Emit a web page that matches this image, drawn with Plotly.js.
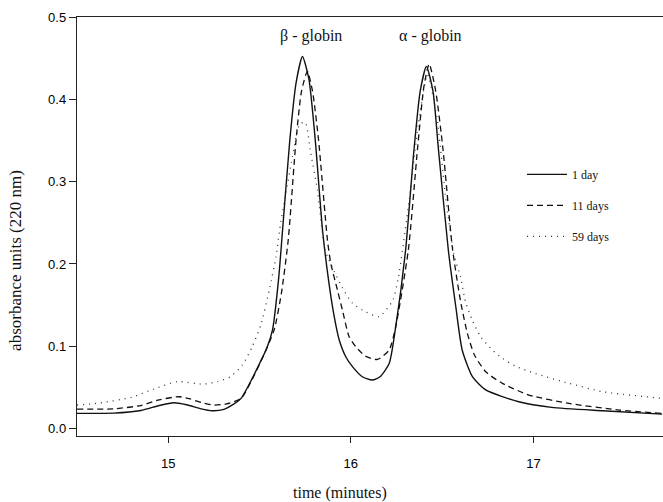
<!DOCTYPE html>
<html>
<head>
<meta charset="utf-8">
<script src="https://cdn.plot.ly/plotly-3.0.1.min.js"></script>
<style>html,body{margin:0;padding:0;background:#fff;}#chart{width:663px;height:502px;}</style>
</head>
<body>
<div id="chart"></div>
<script>
// 1 day (solid)
const t1 = [14.5,14.7,14.85,14.95,15.03,15.1,15.18,15.24,15.3,15.36,15.4,15.46,15.5,15.54,15.571,15.604,15.626,15.666,15.7,15.735,15.77,15.805,15.845,15.88,15.909,15.936,15.973,16.01,16.063,16.118,16.16,16.21,16.246,16.3,16.346,16.38,16.414,16.45,16.48,16.534,16.575,16.61,16.666,16.739,16.92,17.1,17.38,17.705];
const a1 = [0.0185,0.0188,0.022,0.028,0.0314,0.029,0.024,0.0217,0.023,0.03,0.037,0.061,0.079,0.098,0.12,0.181,0.241,0.351,0.42,0.452,0.425,0.351,0.241,0.177,0.136,0.108,0.087,0.075,0.063,0.059,0.063,0.079,0.124,0.217,0.339,0.41,0.44,0.41,0.339,0.217,0.148,0.0955,0.063,0.047,0.0326,0.0258,0.0217,0.0176];
// 11 days (dashed)
const t11 = [14.5,14.7,14.85,14.95,15.06,15.12,15.19,15.25,15.32,15.4,15.46,15.52,15.58,15.62,15.657,15.7,15.73,15.762,15.79,15.823,15.872,15.89,15.927,15.954,15.99,16.027,16.08,16.146,16.21,16.246,16.315,16.365,16.4,16.429,16.465,16.505,16.556,16.6,16.638,16.677,16.739,16.83,16.976,17.195,17.47,17.705];
const a11 = [0.0237,0.024,0.028,0.035,0.0387,0.036,0.031,0.0286,0.03,0.037,0.06,0.088,0.12,0.165,0.229,0.351,0.41,0.434,0.41,0.351,0.229,0.201,0.168,0.144,0.112,0.0995,0.088,0.084,0.0955,0.124,0.217,0.339,0.415,0.443,0.41,0.339,0.22,0.156,0.116,0.0894,0.069,0.055,0.0408,0.0306,0.0225,0.0185];
// 59 days (dotted)
const t59 = [14.5,14.62,14.8,14.92,15.05,15.19,15.27,15.34,15.405,15.46,15.507,15.553,15.59,15.617,15.635,15.68,15.72,15.75,15.78,15.817,15.859,15.909,15.954,16.01,16.08,16.155,16.23,16.26,16.32,16.37,16.42,16.47,16.52,16.565,16.6,16.628,16.665,16.71,16.775,16.83,16.9,17.01,17.195,17.38,17.705];
const a59 = [0.0286,0.031,0.038,0.048,0.057,0.054,0.057,0.063,0.077,0.0995,0.126,0.168,0.209,0.252,0.274,0.33,0.37,0.372,0.335,0.29,0.217,0.191,0.171,0.152,0.142,0.136,0.156,0.183,0.278,0.37,0.43,0.38,0.28,0.211,0.185,0.154,0.132,0.112,0.0955,0.0854,0.076,0.067,0.055,0.0448,0.0367];

const seriesNames = ['1 day','11 days','59 days'];
const peakLabels = ['\u03b2 - globin','\u03b1 - globin'];
const xTicks = [15,16,17];
const yTicks = [0.0,0.1,0.2,0.3,0.4,0.5];
const yTickText = ['0.0','0.1','0.2','0.3','0.4','0.5'];

const serif = 'Liberation Serif, Times New Roman, serif';
const sans = 'Liberation Sans, Arial, sans-serif';

const traces = [
  {x:t1, y:a1, name:seriesNames[0], legendgroup:'g1', mode:'lines', line:{color:'#111', width:1.4, shape:'spline', smoothing:0.6}},
  {x:t11, y:a11, name:seriesNames[1], legendgroup:'g2', mode:'lines', line:{color:'#111', width:1.3, dash:'6px,4px', shape:'spline', smoothing:0.6}},
  {x:t59, y:a59, name:seriesNames[2], legendgroup:'g3', mode:'lines', line:{color:'#333', width:1.3, dash:'1px,5px', shape:'spline', smoothing:0.6}}
];

const layout = {
  width:663, height:502,
  margin:{l:77, r:0, t:17, b:66},
  paper_bgcolor:'#fff', plot_bgcolor:'#fff',
  showlegend:true,
  legend:{x:0.7594, y:0.659, xanchor:'left', yanchor:'top', font:{family:serif, size:12, color:'#111'}, itemwidth:40, tracegroupgap:12, bgcolor:'rgba(0,0,0,0)'},
  xaxis:{range:[14.5,17.71], tickvals:xTicks, ticktext:xTicks.map(String), ticks:'outside', ticklen:6, tickcolor:'#222', showline:true, linecolor:'#222', linewidth:1.2, mirror:true, showgrid:false, zeroline:false, ticklabelstandoff:9, tickfont:{family:sans, size:13, color:'#000'}},
  yaxis:{range:[-0.009,0.5], tickvals:yTicks, ticktext:yTickText, ticks:'outside', ticklen:7, tickcolor:'#222', showline:true, linecolor:'#222', linewidth:1.2, showgrid:false, zeroline:false, tickfont:{family:sans, size:13, color:'#000'}},
  annotations:[
    {text:peakLabels[0], xref:'paper', yref:'paper', x:0.399, y:0.955, xanchor:'center', yanchor:'middle', showarrow:false, font:{family:serif, size:16, color:'#111'}},
    {text:peakLabels[1], xref:'paper', yref:'paper', x:0.604, y:0.955, xanchor:'center', yanchor:'middle', showarrow:false, font:{family:serif, size:16, color:'#111'}},
    {text:'absorbance units (220 nm)', xref:'paper', yref:'paper', x:-0.104, y:0.418, xanchor:'center', yanchor:'middle', textangle:-90, showarrow:false, font:{family:serif, size:17, color:'#111'}},
    {text:'time (minutes)', xref:'paper', yref:'paper', x:0.449, y:-0.135, xanchor:'center', yanchor:'middle', showarrow:false, font:{family:serif, size:16, color:'#111'}}
  ]
};

Plotly.newPlot('chart', traces, layout, {displayModeBar:false, staticPlot:true});
</script>
</body>
</html>
